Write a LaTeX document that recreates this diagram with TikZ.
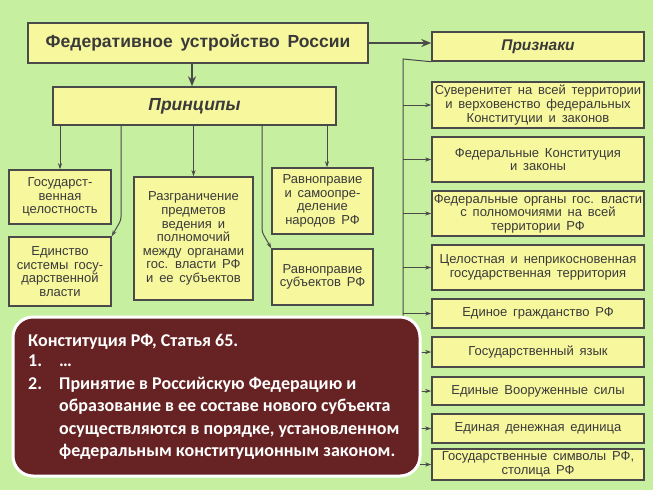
\documentclass[tikz,border=0pt]{standalone}
\usepackage{fontspec}
\setmainfont{Liberation Sans}[WordSpace=1.6]
\newfontfamily\calib{Carlito}
\usepackage{tikz}
\usetikzlibrary{arrows.meta,calc}
\usepackage{xcolor}
\definecolor{bggreen}{HTML}{C6EFA0}
\definecolor{boxfill}{HTML}{F7F79E}
\definecolor{boxline}{HTML}{4A4A4A}
\definecolor{boxtext}{HTML}{3A3A3A}
\definecolor{noteback}{HTML}{672323}

\begin{document}
\begin{tikzpicture}[x=1pt,y=-1pt,
  box/.style={draw=boxline,line width=1.5pt,fill=boxfill,text=boxtext,align=center,inner sep=1pt,
    font=\fontsize{13}{13.6}\selectfont},
  link/.style={draw=boxline,line width=1pt,-{Stealth[length=6pt,width=4pt]}},
  bigarrow/.style={draw=boxline,line width=1.6pt,-{Stealth[length=10pt,width=8pt]}},
  notetext/.style={text=white,inner sep=0pt,anchor=base west,font=\calib\bfseries\fontsize{18}{22}\selectfont}]
  \fill[bggreen] (0,0) rectangle (653,490);
  \useasboundingbox (0,0) rectangle (653,490);
  % top row
  \node[box,minimum width=340pt,minimum height=40pt,font=\bfseries\fontsize{17.5}{19}\selectfont] (title) at (198,43){Федеративное устройство России};
  \node[box,minimum width=283pt,minimum height=38pt,font=\bfseries\itshape\fontsize{17.5}{19}\selectfont] (princ) at (194.5,106){Принципы};
  \node[box,minimum width=212pt,minimum height=29pt,font=\bfseries\itshape\fontsize{15.5}{17}\selectfont] (prizn) at (538,46.5){Признаки};
  % principles
  \node[box,minimum width=102pt,minimum height=54pt] (gos) at (60,197){Государст-\\венная\\целостность};
  \node[box,minimum width=102pt,minimum height=69pt] (edin) at (60,271.5){Единство\\системы госу-\\дарственной\\власти};
  \node[box,minimum width=119pt,minimum height=123pt] (razgr) at (193.5,238.5){Разграничение\\предметов\\ведения и\\полномочий\\между органами\\гос. власти РФ\\и ее субъектов};
  \node[box,minimum width=101pt,minimum height=66pt] (ravnar) at (322.5,201){Равноправие\\и самоопре-\\деление\\народов РФ};
  \node[box,minimum width=101pt,minimum height=56pt] (ravsub) at (322.5,277){Равноправие\\субъектов РФ};
  % features
  \node[box,minimum width=212pt,minimum height=46pt] (suver) at (538,105){Суверенитет на всей территории\\и верховенство федеральных\\Конституции и законов};
  \node[box,minimum width=212pt,minimum height=45pt] (konst) at (538,159.5){Федеральные Конституция\\и законы};
  \node[box,minimum width=212pt,minimum height=45pt] (organ) at (538,213.5){Федеральные органы гос. власти\\с полномочиями на всей\\территории РФ};
  \node[box,minimum width=212pt,minimum height=45pt] (terr) at (538,267.5){Целостная и неприкосновенная\\государственная территория};
  \node[box,minimum width=212pt,minimum height=29pt] (grazh) at (538,313.5){Единое гражданство РФ};
  \node[box,minimum width=212pt,minimum height=30pt] (yazyk) at (538,352){Государственный язык};
  \node[box,minimum width=212pt,minimum height=28pt] (sily) at (538,391){Единые Вооруженные силы};
  \node[box,minimum width=212pt,minimum height=29pt] (valuta) at (538,428.5){Единая денежная единица};
  \node[box,minimum width=212pt,minimum height=31pt] (simvol) at (538,464.5){Государственные символы РФ,\\столица РФ};
  % connectors
  \draw[bigarrow] (title.south -| 192,0) -- (princ.north -| 192,0);
  \draw[bigarrow] (title.east) -- (title.east -| prizn.west);
  \draw[link] (princ.south -| gos.north) -- (gos.north);
  \draw[link] (princ.south -| razgr.north) -- (razgr.north);
  \draw[link] (princ.south -| 327,0) -- (ravnar.north -| 327,0);
  \coordinate (bendL) at (121,220);
  \coordinate (bendR) at (262,232);
  \draw[link,rounded corners=3pt] (princ.south -| bendL) -- (bendL) -- (edin.north east);
  \draw[link,rounded corners=3pt] (princ.south -| bendR) -- (bendR) -- (ravsub.north west);
  \coordinate (spine) at (403,59);
  \draw[draw=boxline,line width=1pt] (prizn.south west) -- (spine) -- (spine |- simvol.west);
  \draw[link] (spine |- suver.west) -- (suver.west);
  \draw[link] (spine |- konst.west) -- (konst.west);
  \draw[link] (spine |- organ.west) -- (organ.west);
  \draw[link] (spine |- terr.west) -- (terr.west);
  \draw[link] (spine |- grazh.west) -- (grazh.west);
  \draw[link] (spine |- yazyk.west) -- (yazyk.west);
  \draw[link] (spine |- sily.west) -- (sily.west);
  \draw[link] (spine |- valuta.west) -- (valuta.west);
  \draw[link] (spine |- simvol.west) -- (simvol.west);
  % constitution note
  \draw[draw=white,line width=3pt,fill=noteback,rounded corners=20pt] (13,317) rectangle (420,476);
  \node[notetext] (nhead) at (28,346){Конституция РФ, Статья 65.};
  \node[notetext] (none) at (28,366){1.};
  \node[notetext] (ndots) at (59,366){\dots};
  \node[notetext] (ntwo) at (28,389){2.};
  \node[notetext] (nl1) at (59,389){Принятие в Российскую Федерацию и};
  \node[notetext] (nl2) at (59,411.5){образование в ее составе нового субъекта};
  \node[notetext] (nl3) at (59,434){осуществляются в порядке, установленном};
  \node[notetext] (nl4) at (59,456.5){федеральным конституционным законом.};
\end{tikzpicture}
\end{document}
